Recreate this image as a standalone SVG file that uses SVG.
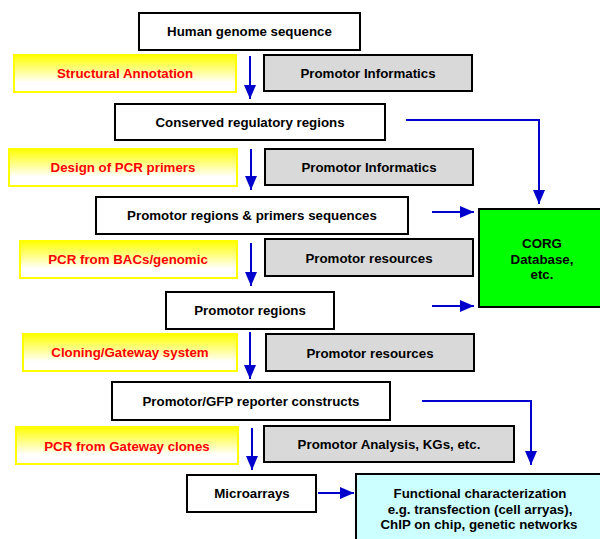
<svg xmlns="http://www.w3.org/2000/svg" width="600" height="539" viewBox="0 0 600 539">
<defs>
<linearGradient id="yg" x1="0" y1="0" x2="0" y2="1">
<stop offset="0" stop-color="#ffff00"/>
<stop offset="0.75" stop-color="#ffffff"/>
<stop offset="1" stop-color="#ffffff"/>
</linearGradient>
<marker id="ah2" viewBox="0 0 14 12" refX="14" refY="6" markerWidth="14" markerHeight="12" orient="auto" markerUnits="userSpaceOnUse">
<path d="M0,0 L14,6 L0,12 z" fill="#0000cc"/>
</marker>
</defs>
<style>
text{font-family:"Liberation Sans",Arial,sans-serif;font-weight:bold;font-size:13.3px;text-anchor:middle;}
.w{fill:#ffffff;stroke:#000;stroke-width:2;}
.g{fill:#d9d9d9;stroke:#000;stroke-width:2;}
.y{fill:url(#yg);stroke:#ffff00;stroke-width:2;}
.r{fill:#ff0000;}
.c{fill:none;stroke:#0000cc;stroke-width:2;marker-end:url(#ah2);}
</style>
<rect width="600" height="539" fill="#fff"/>

<g id="connectors">
<path class="c" d="M250,56 V99"/>
<path class="c" d="M251,149 V190"/>
<path class="c" d="M251,243 V286"/>
<path class="c" d="M250,332 V379"/>
<path class="c" d="M252,428 V470"/>
<path class="c" d="M406,120 H539 V204"/>
<path class="c" d="M432,212 H474"/>
<path class="c" d="M432,306 H474"/>
<path class="c" d="M422,401 H531 V465"/>
<path class="c" d="M318,493 H354"/>
</g>

<g id="human-genome"><rect class="w" x="139" y="13" width="221" height="37"/><text x="249.5" y="36">Human genome sequence</text></g>
<g id="structural-annotation"><rect class="y" x="14" y="55" width="222" height="37"/><text class="r" x="125" y="78">Structural Annotation</text></g>
<g id="promotor-informatics-1"><rect class="g" x="264" y="55" width="208" height="36"/><text x="368" y="78">Promotor Informatics</text></g>

<g id="conserved"><rect class="w" x="115" y="104" width="270" height="36"/><text x="250" y="127">Conserved regulatory regions</text></g>
<g id="design-pcr"><rect class="y" x="9" y="149" width="228" height="37"/><text class="r" x="123" y="172">Design of PCR primers</text></g>
<g id="promotor-informatics-2"><rect class="g" x="265" y="149" width="208" height="36"/><text x="369" y="172">Promotor Informatics</text></g>

<g id="promotor-primers"><rect class="w" x="96" y="197" width="312" height="37"/><text x="252" y="220">Promotor regions &amp; primers sequences</text></g>
<g id="corg"><rect x="479" y="209" width="130" height="98" fill="#00ff00" stroke="#000" stroke-width="2"/><text x="542" y="248">CORG</text><text x="542" y="264">Database,</text><text x="542" y="279">etc.</text></g>
<g id="pcr-bacs"><rect class="y" x="20" y="241" width="217" height="37"/><text class="r" x="128" y="264">PCR from BACs/genomic</text></g>
<g id="promotor-resources-1"><rect class="g" x="265" y="239" width="208" height="37"/><text x="369" y="263">Promotor resources</text></g>

<g id="promotor-regions"><rect class="w" x="166" y="292" width="168" height="37"/><text x="250" y="315">Promotor regions</text></g>
<g id="cloning"><rect class="y" x="23" y="334" width="214" height="37"/><text class="r" x="130" y="357">Cloning/Gateway system</text></g>
<g id="promotor-resources-2"><rect class="g" x="266" y="334" width="208" height="37"/><text x="370" y="358">Promotor resources</text></g>

<g id="promotor-gfp"><rect class="w" x="112" y="382" width="278" height="38"/><text x="251" y="406">Promotor/GFP reporter constructs</text></g>
<g id="pcr-gateway"><rect class="y" x="16" y="427" width="222" height="37"/><text class="r" x="127" y="451">PCR from Gateway clones</text></g>
<g id="promotor-analysis"><rect class="g" x="264" y="426" width="250" height="36"/><text x="389" y="449">Promotor Analysis, KGs, etc.</text></g>

<g id="microarrays"><rect class="w" x="187" y="475" width="129" height="37"/><text x="252" y="498">Microarrays</text></g>
<g id="functional"><rect x="356" y="474" width="260" height="80" fill="#ccffff" stroke="#000" stroke-width="2"/><text x="480" y="498">Functional characterization</text><text x="480" y="514">e.g. transfection (cell arryas),</text><text x="479" y="529">ChIP on chip, genetic networks</text></g>
</svg>
